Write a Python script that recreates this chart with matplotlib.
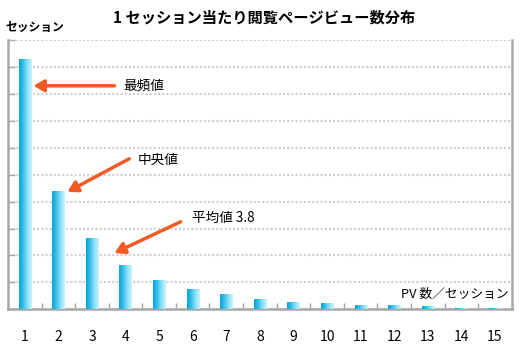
import numpy as np
import matplotlib
matplotlib.use('Agg')
import matplotlib.pyplot as plt
from matplotlib.colors import LinearSegmentedColormap
from matplotlib.ticker import MultipleLocator

plt.rcParams['font.family'] = ['Noto Sans CJK JP', 'DejaVu Sans']

# 1セッション当たりのPV数と、その割合(目盛りなし、読み取り値)
pv = list(range(1, 16))
sessions = [9.3, 4.39, 2.65, 1.63, 1.08, 0.77, 0.56, 0.37, 0.27, 0.23,
            0.16, 0.16, 0.12, 0.06, 0.06]
tick_labels = [str(p) for p in pv]

title = '1 セッション当たり閲覧ページビュー数分布'
ylab = 'セッション'
xlab = 'PV 数／セッション'

grey = '#a8a8a8'
arrow_c = '#f15a24'
blue = LinearSegmentedColormap.from_list('b', ['#0aa2da', '#3cc0ea', '#8ee2f8', '#c8f2fc'])

fig = plt.figure(figsize=(5.2, 3.45), dpi=100)
ax = fig.add_axes([0.0154, 0.1035, 0.9686, 0.7805])

bars = ax.bar(pv, sessions, width=0.36, color='none', zorder=3)
grad = np.linspace(0, 1, 64).reshape(1, -1)
for b in bars:
    x0 = b.get_x()
    im = ax.imshow(grad, cmap=blue, aspect='auto', zorder=3,
                   extent=(x0, x0 + b.get_width(), 0, b.get_height()))
    im.set_clip_path(b)

ax.set_xlim(0.5, 15.5)
ax.set_ylim(0, 10)

ax.yaxis.set_major_locator(MultipleLocator(1))
ax.grid(axis='y', color='#cfcfcf', linestyle=(0, (1, 1)), linewidth=1.5, zorder=0)
ax.tick_params(axis='y', direction='in', length=5, width=1, color=grey,
               labelleft=False)

ax.set_xticks(pv)
ax.set_xticklabels(tick_labels, fontsize=10)
ax.set_xticks(np.arange(1.5, 15, 1), minor=True)
ax.tick_params(axis='x', which='major', length=0, pad=15)
ax.tick_params(axis='x', which='minor', direction='in', length=4, width=1, color=grey)

for s in ['left', 'right', 'bottom']:
    ax.spines[s].set_color(grey)
    ax.spines[s].set_linewidth(1.8)
ax.spines['top'].set_visible(False)

fig.text(0.508, 0.95, title, ha='center', va='center', fontsize=11, fontweight='bold')
fig.text(0.01, 0.92, ylab, ha='left', va='center', fontsize=8.5, fontweight='bold')
ax.text(15.4, 0.55, xlab, ha='right', va='center', fontsize=9.2)

arrows = [('最頻値', (3.67, 8.3), (1.26, 8.3), (3.94, 8.3)),
          ('中央値', (4.11, 5.59), (2.27, 4.36), (4.35, 5.55)),
          ('平均値 3.8', (5.64, 3.25), (3.67, 2.09), (5.99, 3.39))]
for label, tail, head, tpos in arrows:
    ax.annotate('', xy=head, xytext=tail, zorder=5,
                arrowprops=dict(arrowstyle='-|>,head_length=0.6,head_width=0.35',
                                color=arrow_c, lw=2.5, shrinkA=0, shrinkB=0))
    ax.text(tpos[0], tpos[1], label, ha='left', va='center', fontsize=9.8, zorder=5)

fig.savefig('out.png', dpi=100)
